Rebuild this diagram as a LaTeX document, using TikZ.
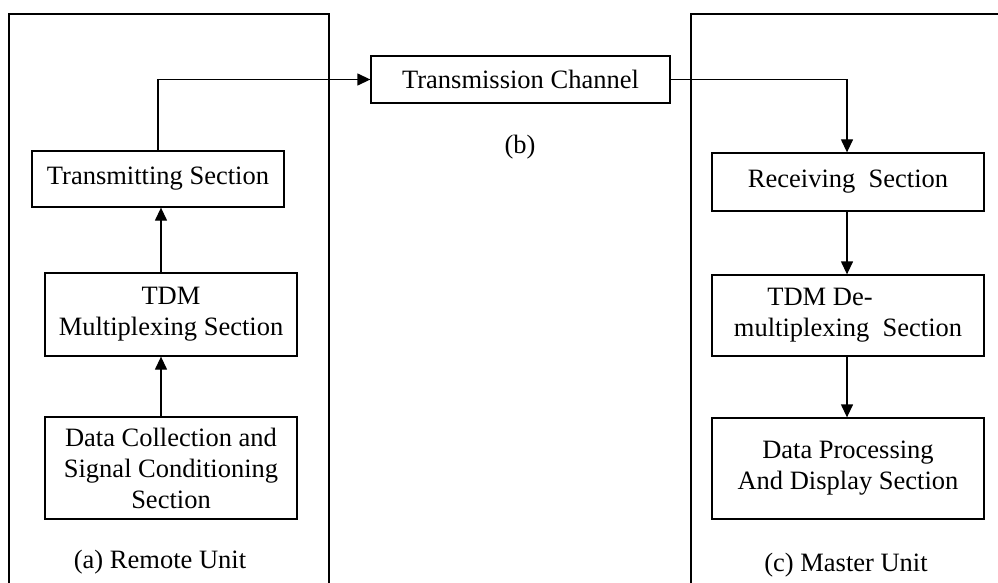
\documentclass[tikz,border=0pt]{standalone}
\usepackage{fontspec}
\setmainfont{Liberation Serif}
\usetikzlibrary{arrows.meta}
\begin{document}
\begin{tikzpicture}[x=1pt,y=-1pt,
  blk/.style={draw=black,line width=1.3pt,inner sep=0pt,align=center,font=\fontsize{26.5}{31}\selectfont},
  lbl/.style={inner sep=0pt,font=\fontsize{26.5}{31}\selectfont},
  conn/.style={line width=1.3pt,-{Triangle[length=13pt,width=12pt]}},
  wire/.style={line width=1.3pt}]
\useasboundingbox (0,0) rectangle (998,583);
\begin{scope}
\clip (0,0) rectangle (998,583);
\draw[wire] (9,600) -- (9,14) -- (329,14) -- (329,600);
\draw[wire] (691,600) -- (691,14) -- (1010,14);
\end{scope}
\node[blk,minimum width=252pt,minimum height=56pt] (ts) at (158,179) {Transmitting Section};
\node[blk,minimum width=252pt,minimum height=83pt] (mux) at (171,314.5) {TDM\\Multiplexing Section};
\node[blk,minimum width=252pt,minimum height=102pt] (dc) at (171,468) {Data Collection and\\Signal Conditioning\\Section};
\node[blk,minimum width=299pt,minimum height=47pt] (tc) at (520.5,79.5) {Transmission Channel};
\node[blk,minimum width=272pt,minimum height=58pt] (rs) at (848,182) {Receiving\ \ Section};
\node[blk,minimum width=272pt,minimum height=81pt] (dmx) at (848,315.5) {TDM De-\hspace*{56pt}\\multiplexing\ \ Section};
\node[blk,minimum width=272pt,minimum height=101pt] (dp) at (848,468.5) {Data Processing\\And Display Section};
\node[lbl] (la) at (160,562) {(a) Remote Unit};
\node[lbl] (lb) at (520,147) {(b)};
\node[lbl] (lc) at (846,565) {(c) Master Unit};
\draw[conn] ([xshift=-10pt]dc.north) -- ([xshift=-10pt]dc.north |- mux.south);
\draw[conn] ([xshift=-10pt]mux.north) -- ([xshift=-10pt]mux.north |- ts.south);
\draw[conn] (ts.north) |- (tc.west);
\draw[conn] (tc.east) -| ([xshift=-1pt]rs.north);
\draw[conn] ([xshift=-1pt]rs.south) -- ([xshift=-1pt]rs.south |- dmx.north);
\draw[conn] ([xshift=-1pt]dmx.south) -- ([xshift=-1pt]dmx.south |- dp.north);
\end{tikzpicture}
\end{document}
